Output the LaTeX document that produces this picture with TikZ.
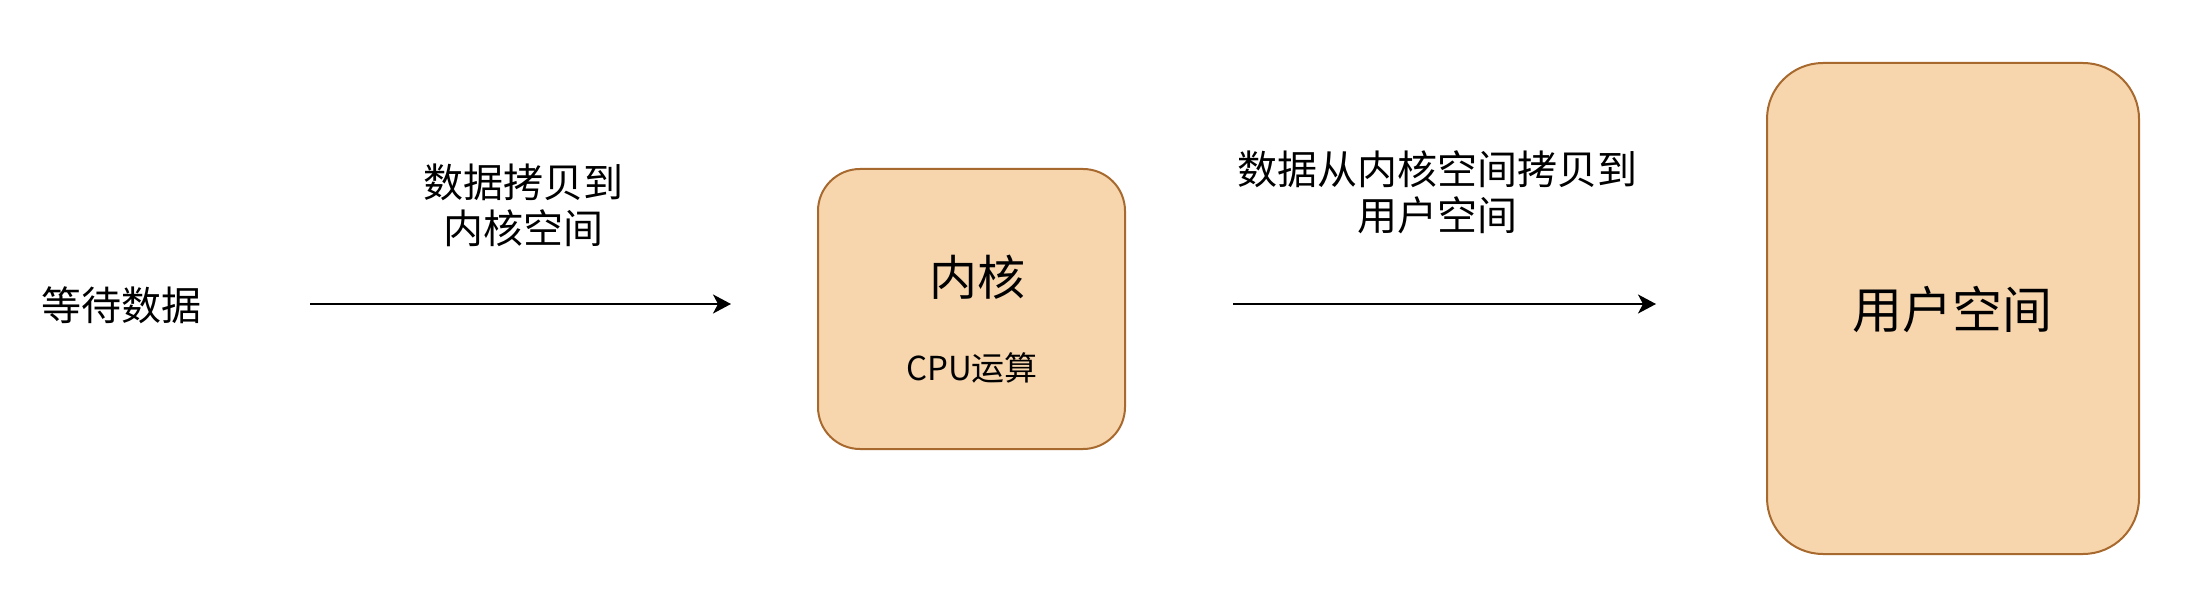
\documentclass[tikz,border=0pt]{standalone}
\usepackage{fontspec}
\setmainfont{Noto Sans CJK SC}
\usetikzlibrary{arrows.meta}
\definecolor{boxfill}{HTML}{F7D6AE}
\definecolor{boxline}{HTML}{A8692E}
\tikzset{
  box/.style={draw=boxline, fill=boxfill, line width=2pt, inner sep=0pt},
  txt/.style={inner sep=0pt, align=center, text=black},
  fs40/.style={font=\fontsize{40}{46}\selectfont},
  fs48/.style={font=\fontsize{48}{54}\selectfont},
  fs50/.style={font=\fontsize{50}{56}\selectfont},
  fs32/.style={font=\fontsize{33}{38}\selectfont},
  conn/.style={line width=2pt, -{Stealth[length=18pt, width=19pt, inset=5pt]}}
}
\begin{document}
\begin{tikzpicture}[x=1pt, y=-1pt]
\useasboundingbox (0,0) rectangle (2210,604);
\fill[white] (0,0) rectangle (2210,604);
% boxes
\node[box, rounded corners=42pt, minimum width=307pt, minimum height=280pt] (kernel) at (971.5,309) {};
\node[box, rounded corners=56pt, minimum width=372pt, minimum height=491pt] (user) at (1953,308.5) {};
% texts
\node[txt, fs40] (wait) at (121,305) {等待数据};
\node[txt, fs40] (lab1) at (523.5,205) {数据拷贝到\\内核空间};
\node[txt, fs40] (lab2) at (1437,192) {数据从内核空间拷贝到\\用户空间};
\node[txt, fs48] (ktitle) at (977,277) {内核};
\node[txt, fs32] (kcpu) at (972,368) {CPU运算};
\node[txt, fs50] (utitle) at (1952,309) {用户空间};
% connectors
\coordinate (a1s) at (310,304);
\coordinate (a1e) at (731,304);
\coordinate (a2s) at (1233,304);
\coordinate (a2e) at (1656,304);
\draw[conn] (a1s) -- (a1e);
\draw[conn] (a2s) -- (a2e);
\end{tikzpicture}
\end{document}
